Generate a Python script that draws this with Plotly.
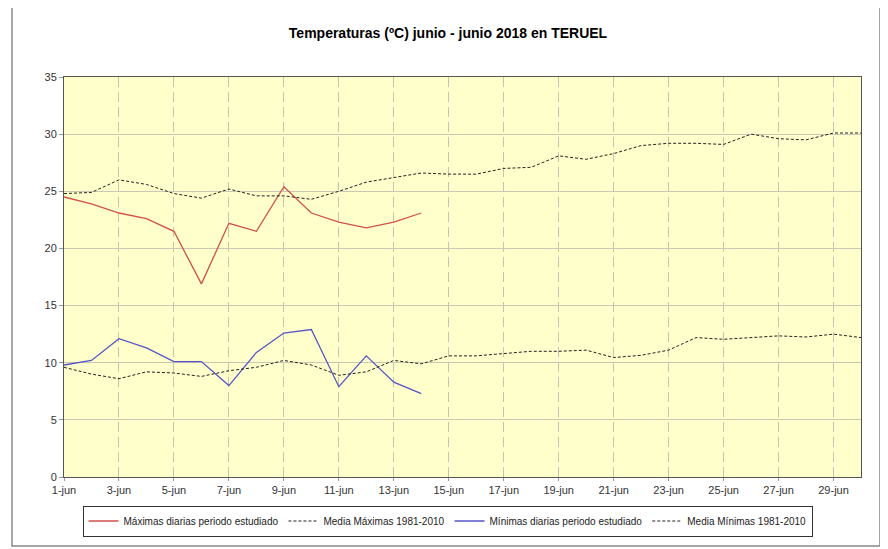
import plotly.graph_objects as go

days = [f"{d}-jun" for d in range(1, 31)]
tick_labels = ["1-jun", "3-jun", "5-jun", "7-jun", "9-jun", "11-jun", "13-jun", "15-jun",
               "17-jun", "19-jun", "21-jun", "23-jun", "25-jun", "27-jun", "29-jun"]

max_diarias = [24.5, 23.9, 23.1, 22.6, 21.5, 16.9, 22.2, 21.5, 25.4, 23.1, 22.3, 21.8, 22.3, 23.1]
media_max = [24.8, 24.9, 26.0, 25.6, 24.8, 24.4, 25.2, 24.6, 24.6, 24.3, 25.0, 25.8, 26.2, 26.6,
             26.5, 26.5, 27.0, 27.1, 28.1, 27.8, 28.3, 29.0, 29.2, 29.2, 29.1, 30.0, 29.6, 29.5,
             30.1, 30.1]
min_diarias = [9.8, 10.2, 12.1, 11.3, 10.1, 10.1, 8.0, 10.9, 12.6, 12.9, 7.9, 10.6, 8.3, 7.3]
media_min = [9.6, 9.0, 8.6, 9.2, 9.1, 8.8, 9.3, 9.6, 10.2, 9.8, 8.9, 9.2, 10.2, 9.9,
             10.6, 10.6, 10.8, 11.0, 11.0, 11.1, 10.45, 10.65, 11.1, 12.2, 12.05, 12.2, 12.35,
             12.25, 12.5, 12.2]

FONT = "Liberation Sans, Arial, sans-serif"

fig = go.Figure()
fig.add_trace(go.Scatter(x=days[:len(max_diarias)], y=max_diarias, mode="lines",
                         name="Máximas diarias periodo estudiado",
                         line=dict(color="#D0504A", width=1.3)))
fig.add_trace(go.Scatter(x=days, y=media_max, mode="lines",
                         name="Media Máximas 1981-2010",
                         line=dict(color="#222222", width=1, dash="3px,2px")))
fig.add_trace(go.Scatter(x=days[:len(min_diarias)], y=min_diarias, mode="lines",
                         name="Mínimas diarias periodo estudiado",
                         line=dict(color="#5555C8", width=1.3)))
fig.add_trace(go.Scatter(x=days, y=media_min, mode="lines",
                         name="Media Mínimas 1981-2010",
                         line=dict(color="#222222", width=1, dash="3px,2px")))

OFF = 8  # page body margin
W, H = 888 - OFF, 549 - OFF
L, R, T, B = 64 - OFF, 861 - OFF, 77 - OFF, 477 - OFF
pw, ph = R - L, B - T

def px_x(x):
    return (x - OFF - L) / pw

def px_y(y):
    return (B - (y - OFF)) / ph

fig.update_layout(
    width=W, height=H,
    margin=dict(l=L, r=W - R, t=T, b=H - B),
    paper_bgcolor="white",
    plot_bgcolor="#FFFFCC",
    font=dict(family=FONT, size=11, color="#333333"),
    title=dict(text="<b>Temperaturas (ºC) junio - junio 2018 en TERUEL</b>",
               x=0.5, xanchor="center", y=1 - (33 - OFF) / H, yanchor="middle", yref="container",
               font=dict(family=FONT, size=14, color="#000000")),
    showlegend=True,
    legend=dict(orientation="h", x=px_x(447.5), xanchor="center", y=px_y(521), yanchor="middle",
                bgcolor="white", bordercolor="#333333", borderwidth=1,
                font=dict(family=FONT, size=10, color="#222222"),
                itemwidth=30, tracegroupgap=0),
    xaxis=dict(type="category", categoryorder="array", categoryarray=days,
               range=[0, len(days) - 1], tickmode="array", tickvals=tick_labels, ticktext=tick_labels,
               showgrid=True, gridcolor="#C4C4B0", griddash="10px,5px", gridwidth=1,
               showline=True, linecolor="#555555", linewidth=1, mirror=True,
               ticks="outside", ticklen=3, tickcolor="#999999",
               tickfont=dict(size=11, color="#333333"), zeroline=False, fixedrange=True),
    yaxis=dict(range=[0, 35], dtick=5, tick0=0,
               showgrid=True, gridcolor="#C8C8B4", gridwidth=1,
               showline=True, linecolor="#555555", linewidth=1, mirror=True,
               ticks="outside", ticklen=4, tickcolor="#999999",
               tickfont=dict(size=11, color="#333333"), zeroline=False, fixedrange=True),
    shapes=[dict(type="rect", xref="paper", yref="paper",
                 x0=px_x(12), x1=px_x(880), y0=px_y(546), y1=px_y(7),
                 line=dict(color="#888888", width=1.5), fillcolor="rgba(0,0,0,0)", layer="below")],
)

fig.write_html("out.html")
